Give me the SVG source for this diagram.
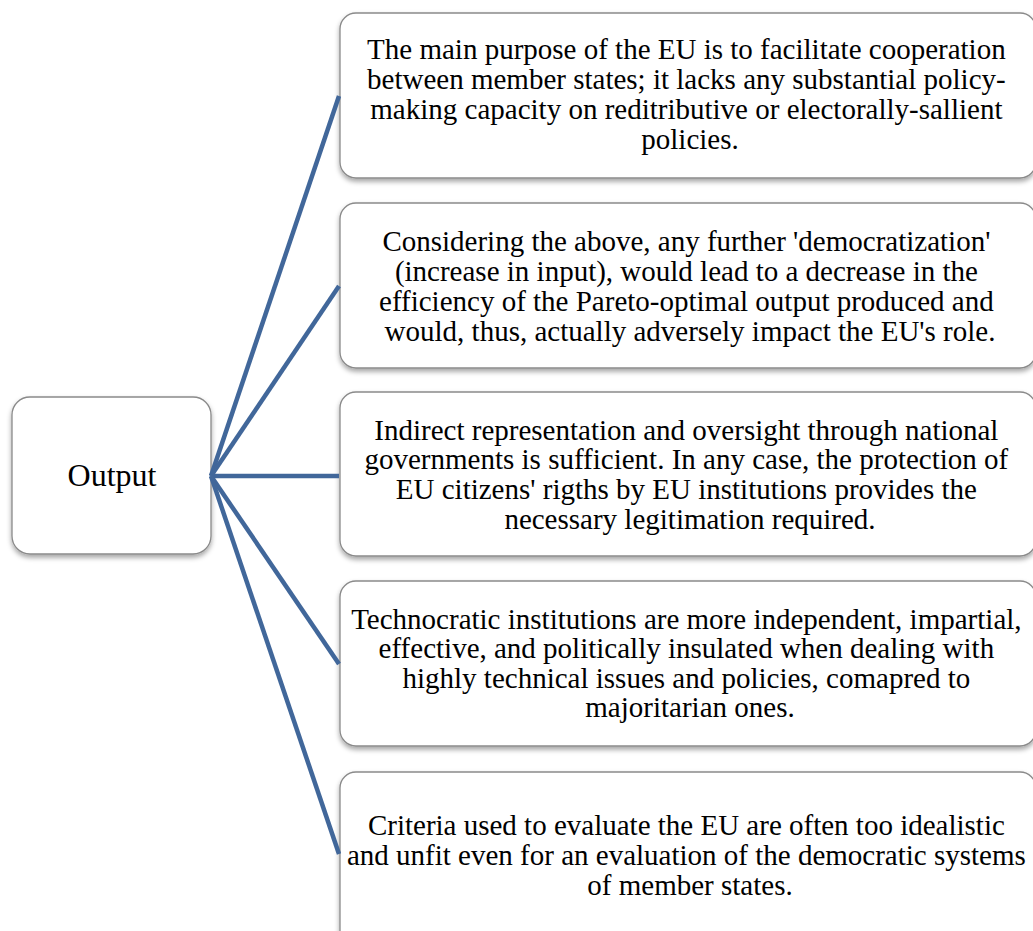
<svg xmlns="http://www.w3.org/2000/svg" width="1033" height="931" viewBox="0 0 1033 931">
  <defs>
    <filter id="shadow" x="-10%" y="-10%" width="120%" height="130%">
      <feDropShadow dx="0" dy="3" stdDeviation="2.5" flood-color="#000" flood-opacity="0.35"/>
    </filter>
  </defs>
  <style>
    .box { fill: #ffffff; stroke: #8a8a8a; stroke-width: 1.3; filter: url(#shadow); }
    .link { stroke: #41679a; stroke-width: 4.5; fill: none; stroke-linecap: butt; }
    .txt { font-family: "Liberation Serif", "Times New Roman", serif; font-size: 29px; fill: #000; text-anchor: middle; }
    .root { font-family: "Liberation Serif", "Times New Roman", serif; font-size: 32px; fill: #000; text-anchor: middle; }
  </style>
  <rect width="1033" height="931" fill="#ffffff"/>

  <g id="node-output">
    <rect class="box" x="12" y="397" width="199" height="157" rx="18"/>
    <text class="root" x="112" y="486">Output</text>
  </g>

  <g id="node-1">
    <rect class="box" x="340" y="13" width="696" height="165" rx="16"/>
    <text class="txt" x="690">
      <tspan x="690" y="59">The main purpose of the EU is to facilitate cooperation</tspan>
      <tspan x="690" y="89">between member states; it lacks any substantial policy-</tspan>
      <tspan x="690" y="119">making capacity on reditributive or electorally-sallient</tspan>
      <tspan x="690" y="149">policies.</tspan>
    </text>
  </g>

  <g id="node-2">
    <rect class="box" x="340" y="203" width="696" height="165" rx="16"/>
    <text class="txt" x="690">
      <tspan x="690" y="251">Considering the above, any further 'democratization'</tspan>
      <tspan x="690" y="281">(increase in input), would lead to a decrease in the</tspan>
      <tspan x="690" y="311">efficiency of the Pareto-optimal output produced and</tspan>
      <tspan x="690" y="341">would, thus, actually adversely impact the EU's role.</tspan>
    </text>
  </g>

  <g id="node-3">
    <rect class="box" x="340" y="392" width="696" height="164" rx="16"/>
    <text class="txt" x="690">
      <tspan x="690" y="440">Indirect representation and oversight through national</tspan>
      <tspan x="690" y="469">governments is sufficient. In any case, the protection of</tspan>
      <tspan x="690" y="499">EU citizens' rigths by EU institutions provides the</tspan>
      <tspan x="690" y="529">necessary legitimation required.</tspan>
    </text>
  </g>

  <g id="node-4">
    <rect class="box" x="340" y="581" width="696" height="165" rx="16"/>
    <text class="txt" x="690">
      <tspan x="690" y="629">Technocratic institutions are more independent, impartial,</tspan>
      <tspan x="690" y="658">effective, and politically insulated when dealing with</tspan>
      <tspan x="690" y="688">highly technical issues and policies, comapred to</tspan>
      <tspan x="690" y="717">majoritarian ones.</tspan>
    </text>
  </g>

  <g id="node-5">
    <rect class="box" x="340" y="772" width="696" height="175" rx="16"/>
    <text class="txt" x="690">
      <tspan x="690" y="835">Criteria used to evaluate the EU are often too idealistic</tspan>
      <tspan x="690" y="865">and unfit even for an evaluation of the democratic systems</tspan>
      <tspan x="690" y="895">of member states.</tspan>
    </text>
  </g>

  <g id="connectors">
    <line class="link" x1="211" y1="476" x2="339" y2="96"/>
    <line class="link" x1="211" y1="476" x2="339" y2="286"/>
    <line class="link" x1="211" y1="476" x2="339" y2="476"/>
    <line class="link" x1="211" y1="476" x2="339" y2="664"/>
    <line class="link" x1="211" y1="476" x2="339" y2="854"/>
  </g>
</svg>
